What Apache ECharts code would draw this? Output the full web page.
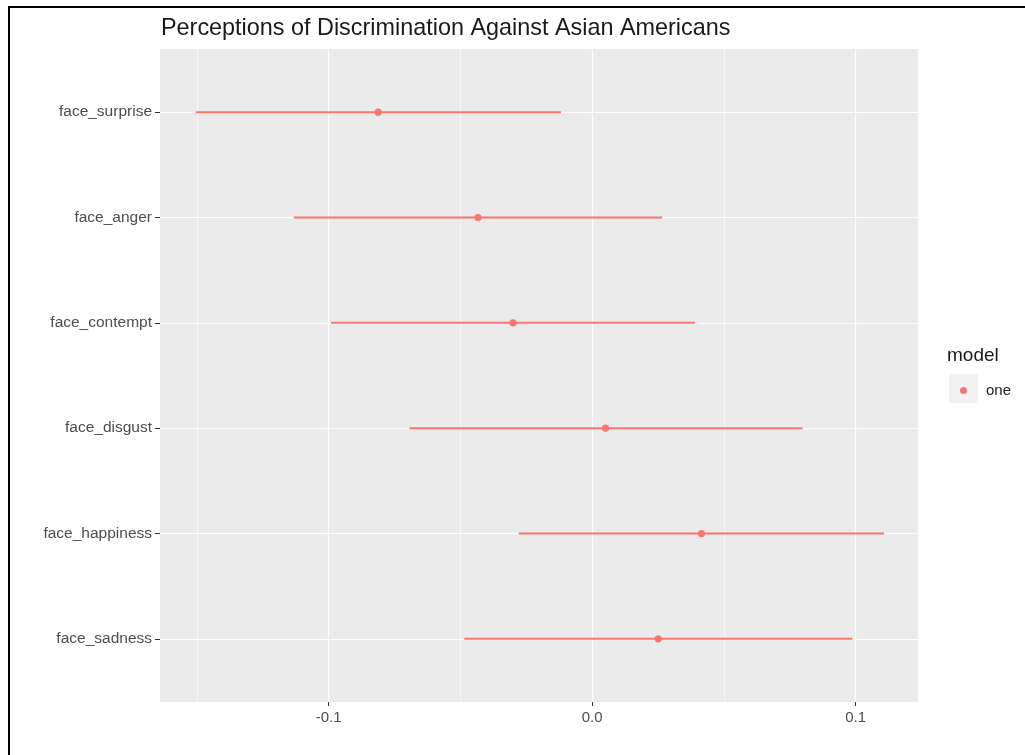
<!DOCTYPE html>
<html>
<head>
<meta charset="utf-8">
<script src="https://cdn.jsdelivr.net/npm/echarts@6/dist/echarts.min.js"></script>
<style>
html,body{margin:0;padding:0;background:#fff;}
#c{width:1025px;height:755px;}
</style>
</head>
<body>
<div id="c"></div>
<script>
// categories from bottom (sadness) to top (surprise)
const categories = ['face_sadness','face_happiness','face_disgust','face_contempt','face_anger','face_surprise'];
const estimate = [0.0251, 0.0415, 0.0051, -0.0300, -0.0433, -0.0812];
const lower    = [-0.0485, -0.0278, -0.0693, -0.0991, -0.1132, -0.1504];
const upper    = [0.0988, 0.1108, 0.0799, 0.0391, 0.0266, -0.0118];
const xTicks = [-0.1, 0.0, 0.1];
const xMinorTicks = [-0.15, -0.05, 0.05];
const modelName = 'one';

const color = '#F8766D';
const data = categories.map((c, i) => [i, lower[i], estimate[i], upper[i]]);
const yIdx = categories.map((c, i) => i);

const chart = echarts.init(document.getElementById('c'));
const FONT = '"Liberation Sans", Arial, sans-serif';
chart.setOption({
  animation: false,
  textStyle: {fontFamily: FONT},
  title: {
    text: 'Perceptions of Discrimination Against Asian Americans',
    left: 156, top: 12,
    textStyle: {fontFamily: FONT, fontSize: 23.4, fontWeight: 'normal', color: '#1a1a1a'}
  },
  grid: {left: 160, top: 49, width: 758, height: 653, show: true, backgroundColor: '#EBEBEB', borderWidth: 0},
  xAxis: [{
    type: 'value', min: -0.164, max: 0.1237,
    axisLine: {show: false, onZero: false},
    axisTick: {show: true, length: 4, lineStyle: {color: '#333', width: 1}, customValues: xTicks},
    axisLabel: {customValues: xTicks, color: '#4d4d4d', fontSize: 15, margin: 8,
      formatter: v => v.toFixed(1)},
    splitLine: {show: true, lineStyle: {color: '#fff', width: 1.2}}
  }, {
    type: 'value', min: -0.164, max: 0.1237, position: 'bottom',
    axisLine: {show: false, onZero: false},
    axisTick: {show: false, customValues: xMinorTicks},
    axisLabel: {show: false, customValues: xMinorTicks},
    splitLine: {show: true, lineStyle: {color: '#fff', width: 0.6}}
  }],
  yAxis: {
    type: 'value', min: -0.6, max: 5.6,
    axisLine: {show: false, onZero: false},
    axisTick: {show: true, length: 5, lineStyle: {color: '#333', width: 1}, customValues: yIdx},
    axisLabel: {customValues: yIdx, color: '#4d4d4d', fontSize: 15.5, margin: 8,
      formatter: v => categories[Math.round(v)] || ''},
    splitLine: {show: true, lineStyle: {color: '#fff', width: 1.2}}
  },
  legend: {
    data: [{name: modelName, icon: 'circle'}],
    left: 955, top: 378, itemWidth: 7, itemHeight: 7, itemGap: 4,
    textStyle: {fontFamily: FONT, fontSize: 15, color: '#1a1a1a', padding: [0,0,0,14]},
    selectedMode: false
  },
  graphic: [
    {type: 'rect', shape: {x: 8, y: 6, width: 1020, height: 2}, style: {fill: '#000'}, z: 100},
    {type: 'rect', shape: {x: 8, y: 6, width: 2, height: 760}, style: {fill: '#000'}, z: 100},
    {type: 'rect', shape: {x: 949, y: 374, width: 29, height: 29}, style: {fill: '#F2F2F2'}, z: -1},
    {type: 'text', left: 947, top: 346, style: {text: 'model', fontFamily: FONT, fontSize: 19, fill: '#1a1a1a'}}
  ],
  series: [{
    name: modelName,
    type: 'custom',
    xAxisIndex: 0,
    itemStyle: {color: color},
    encode: {x: [1, 2, 3], y: 0},
    renderItem: function (params, api) {
      const y = api.value(0);
      const a = api.coord([api.value(1), y]);
      const m = api.coord([api.value(2), y]);
      const b = api.coord([api.value(3), y]);
      return {
        type: 'group',
        children: [
          {type: 'line', shape: {x1: a[0], y1: a[1], x2: b[0], y2: b[1]}, style: {stroke: color, lineWidth: 2}},
          {type: 'circle', shape: {cx: m[0], cy: m[1], r: 3.6}, style: {fill: color}}
        ]
      };
    },
    data: data
  }]
});
</script>
</body>
</html>
